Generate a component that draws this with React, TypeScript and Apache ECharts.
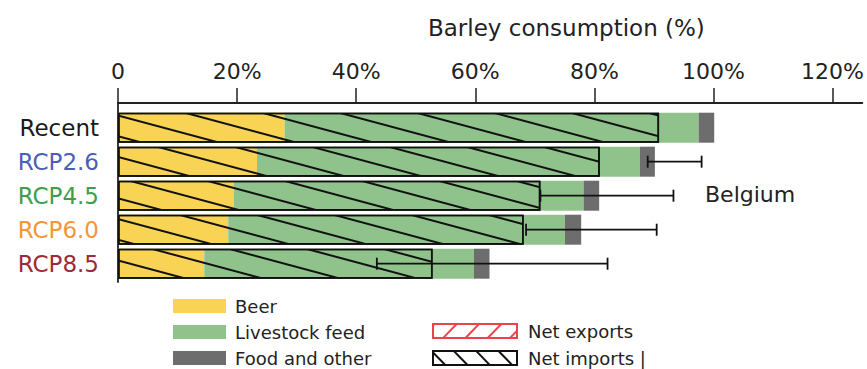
import React, { useEffect, useRef } from 'react';
import * as echarts from 'echarts';

const categories = ['Recent', 'RCP2.6', 'RCP4.5', 'RCP6.0', 'RCP8.5'];
const categoryColors = ['#1a1a1a', '#4b5fb4', '#3e9e4c', '#f2963a', '#9d2a37'];
const beer = [27.8, 23.2, 19.3, 18.4, 14.4];
const livestock = [69.1, 63.9, 58.4, 56.2, 45.0];
const food = [2.6, 2.5, 2.6, 2.7, 2.6];
const netImports = [90.3, 80.4, 70.5, 67.7, 52.5];
const netExports: (number | null)[] = [null, null, null, null, null];
const errLow: (number | null)[] = [null, 88.4, 70.5, 68.1, 43.2];
const errHigh: (number | null)[] = [null, 97.4, 92.7, 89.9, 81.7];
const xTicks = [0, 20, 40, 60, 80, 100, 120];

const FONT = 'DejaVu Sans';
const INK = '#222';

const importsDecal = {
  symbol: 'rect',
  symbolSize: 1,
  color: '#111',
  dashArrayX: [1, 0],
  dashArrayY: [2, 18],
  rotation: 0.262,
};
const exportsDecal = {
  symbol: 'rect',
  symbolSize: 1,
  color: '#e8454a',
  dashArrayX: [1, 0],
  dashArrayY: [2, 18],
  rotation: -0.262,
};
const importsLegendDecal = {
  symbol: 'rect',
  symbolSize: 1,
  color: '#111',
  dashArrayX: [1, 0],
  dashArrayY: [1.5, 13.5],
  rotation: 0.8,
};
const exportsLegendDecal = {
  symbol: 'rect',
  symbolSize: 1,
  color: '#e8454a',
  dashArrayX: [1, 0],
  dashArrayY: [1.5, 13.5],
  rotation: -0.8,
};

export default function App() {
  const ref = useRef<HTMLDivElement>(null);
  useEffect(() => {
    if (!ref.current) return;
    const chart = echarts.init(ref.current, undefined, { renderer: 'svg' });
    const errData: number[][] = [];
    categories.forEach((_, i) => {
      if (errLow[i] != null && errHigh[i] != null) errData.push([i, errLow[i] as number, errHigh[i] as number]);
    });
    const option: any = {
      animation: false,
      textStyle: { fontFamily: FONT },
      grid: [
        { left: 118, right: 0, top: 103, height: 179 },
        { left: 118, right: 0, top: 110.7, height: 170 },
      ],
      xAxis: [
        {
          gridIndex: 0,
          type: 'value',
          position: 'top',
          min: 0,
          max: 125,
          interval: 20,
          axisLine: { show: true, onZero: false, lineStyle: { color: INK, width: 1.8 } },
          axisTick: { show: true, length: 15, customValues: xTicks, lineStyle: { color: INK, width: 1.5 } },
          axisLabel: {
            show: true,
            customValues: xTicks,
            margin: 21,
            fontSize: 22,
            color: INK,
            fontFamily: FONT,
            formatter: (v: number) => (v > 120 ? '' : v === 0 ? '0' : v + '%'),
          },
          splitLine: { show: false },
        },
        { gridIndex: 1, type: 'value', min: 0, max: 125, show: false },
      ],
      yAxis: [
        {
          gridIndex: 0,
          type: 'value',
          min: 0,
          max: 1,
          axisLine: { show: true, onZero: false, lineStyle: { color: INK, width: 1.8 } },
          axisTick: { show: false },
          axisLabel: { show: false },
          splitLine: { show: false },
        },
        {
          gridIndex: 1,
          type: 'category',
          inverse: true,
          data: categories,
          axisLine: { show: false },
          axisTick: { show: false },
          axisLabel: {
            margin: 19,
            fontSize: 23,
            fontFamily: FONT,
            color: (_v: string, i: number) => categoryColors[i],
          },
        },
      ],
      legend: [
        {
          data: ['Beer', 'Livestock feed', 'Food and other'],
          orient: 'vertical',
          left: 173,
          top: 297,
          padding: 0,
          itemWidth: 53,
          itemHeight: 14,
          itemGap: 8,
          icon: 'rect',
          selectedMode: false,
          textStyle: { fontSize: 18, color: INK, fontFamily: FONT, padding: [0, 0, 0, 4] },
        },
        {
          data: [
            { name: 'Net exports', itemStyle: { decal: exportsLegendDecal } },
            { name: 'Net imports', itemStyle: { decal: importsLegendDecal } },
          ],
          orient: 'vertical',
          left: 432,
          top: 322,
          padding: 0,
          itemWidth: 84,
          itemHeight: 14,
          itemGap: 9,
          icon: 'rect',
          selectedMode: false,
          formatter: (n: string) => (n === 'Net imports' ? n + ' |' : n),
          textStyle: { fontSize: 18, color: INK, fontFamily: FONT, padding: [0, 0, 0, 6] },
        },
      ],
      graphic: [
        {
          type: 'text',
          left: 428,
          top: 16,
          style: { text: 'Barley consumption (%)', fontSize: 23, fill: INK, fontFamily: FONT },
        },
        {
          type: 'text',
          left: 705,
          top: 183,
          style: { text: 'Belgium', fontSize: 22, fill: INK, fontFamily: FONT },
        },
      ],
      series: [
        {
          name: 'Beer', type: 'bar', xAxisIndex: 1, yAxisIndex: 1, stack: 'use',
          barWidth: 30, barGap: '-100%', itemStyle: { color: '#f8d354' }, data: beer,
        },
        {
          name: 'Livestock feed', type: 'bar', xAxisIndex: 1, yAxisIndex: 1, stack: 'use',
          barWidth: 30, barGap: '-100%', itemStyle: { color: '#8fc38b' }, data: livestock,
        },
        {
          name: 'Food and other', type: 'bar', xAxisIndex: 1, yAxisIndex: 1, stack: 'use',
          barWidth: 30, barGap: '-100%', itemStyle: { color: '#6d6d6d' }, data: food,
        },
        {
          name: 'Net exports', type: 'bar', xAxisIndex: 1, yAxisIndex: 1,
          barWidth: 30, barGap: '-100%', z: 3,
          itemStyle: { color: 'rgba(255,255,255,0)', borderColor: '#e8454a', borderWidth: 1.2, decal: exportsDecal },
          data: netExports,
        },
        {
          name: 'Net imports', type: 'bar', xAxisIndex: 1, yAxisIndex: 1,
          barWidth: 30, barGap: '-100%', z: 3,
          itemStyle: { color: 'rgba(255,255,255,0)', borderColor: '#111', borderWidth: 1.6, decal: importsDecal },
          data: netImports,
        },
        {
          name: 'Uncertainty', type: 'custom', xAxisIndex: 1, yAxisIndex: 1, z: 5,
          encode: { x: [1, 2], y: 0 },
          data: errData,
          renderItem: (_p: any, api: any) => {
            const idx = api.value(0);
            const lo = api.coord([api.value(1), idx]);
            const hi = api.coord([api.value(2), idx]);
            const h = 6;
            const st = { stroke: '#111', lineWidth: 1.8 };
            return {
              type: 'group',
              children: [
                { type: 'line', shape: { x1: lo[0], y1: lo[1], x2: hi[0], y2: hi[1] }, style: st },
                { type: 'line', shape: { x1: lo[0], y1: lo[1] - h, x2: lo[0], y2: lo[1] + h }, style: st },
                { type: 'line', shape: { x1: hi[0], y1: hi[1] - h, x2: hi[0], y2: hi[1] + h }, style: st },
              ],
            };
          },
        },
      ],
    };
    chart.setOption(option);
    return () => chart.dispose();
  }, []);
  return <div ref={ref} style={{ position: 'absolute', left: 0, top: 0, width: 867, height: 369 }} />;
}
